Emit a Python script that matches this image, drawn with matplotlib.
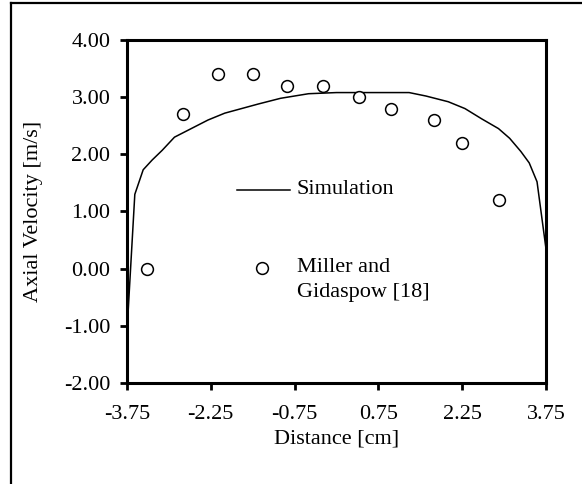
import numpy as np
import matplotlib
matplotlib.use("Agg")
import matplotlib.pyplot as plt
from matplotlib.lines import Line2D

plt.rcParams['font.family'] = ['Liberation Serif', 'DejaVu Serif']
plt.rcParams['axes.unicode_minus'] = False

# Simulation profile
sim_x = [-3.75, -3.61, -3.46, -3.30, -3.12, -2.90, -2.60, -2.30, -2.00, -1.70,
         -1.40, -1.00, -0.50, 0.00, 0.50, 1.00, 1.30, 1.60, 2.00, 2.30,
         2.60, 2.90, 3.10, 3.30, 3.45, 3.59, 3.75]
sim_y = [-1.10, 1.30, 1.73, 1.90, 2.07, 2.30, 2.45, 2.60, 2.72, 2.80,
         2.88, 2.98, 3.06, 3.08, 3.08, 3.08, 3.08, 3.02, 2.92, 2.80,
         2.62, 2.45, 2.28, 2.05, 1.85, 1.52, 0.35]

# Miller and Gidaspow measurements
exp_x = [-3.39, -2.75, -2.12, -1.50, -0.89, -0.25, 0.41, 0.98, 1.75, 2.25, 2.91]
exp_y = [0.0, 2.7, 3.4, 3.4, 3.2, 3.2, 3.0, 2.8, 2.6, 2.2, 1.2]

x_ticks = [-3.75, -2.25, -0.75, 0.75, 2.25, 3.75]
y_ticks = [-2, -1, 0, 1, 2, 3, 4]

fig = plt.figure(figsize=(5.82, 4.84), dpi=100)
ax = fig.add_axes([0.2182, 0.2087, 0.7199, 0.7087])

ax.plot(sim_x, sim_y, color='black', lw=1.1)
ax.plot(exp_x, exp_y, 'o', mfc='white', mec='black', ms=8.5, mew=1.1)

ax.set_xlim(-3.75, 3.75)
ax.set_ylim(-2, 4)
ax.set_xticks(x_ticks)
ax.set_xticklabels([f"{v:.2f}" for v in x_ticks])
ax.set_yticks(y_ticks)
ax.set_yticklabels([f"{v:.2f}" for v in y_ticks])

for s in ax.spines.values():
    s.set_linewidth(2.2)
ax.tick_params(axis='both', direction='out', length=5, width=2, labelsize=16)
ax.tick_params(axis='x', pad=11)
ax.tick_params(axis='y', pad=7)

ax.set_xlabel("Distance [cm]", fontsize=16)
ax.set_ylabel("Axial Velocity [m/s]", fontsize=16)
ax.xaxis.set_label_coords(0.5, -0.137)
ax.yaxis.set_label_coords(-0.2, 0.5)

# hand-placed legend
ax.add_line(Line2D([0.2625, 0.389], [0.5627, 0.5627], transform=ax.transAxes,
                   color='black', lw=1.1))
ax.text(0.4057, 0.5627, "Simulation", transform=ax.transAxes, fontsize=16,
        va='center', ha='left')
ax.add_line(Line2D([0.322], [0.335], transform=ax.transAxes, marker='o',
                   mfc='white', mec='black', ms=8.5, mew=1.1, ls='none'))
ax.text(0.4057, 0.300, "Miller and\nGidaspow [18]", transform=ax.transAxes,
        fontsize=16, va='center', ha='left', linespacing=1.38)

# outer frame (left and top edges)
fig.add_artist(Line2D([0.0189, 0.0189], [0, 0.9938], transform=fig.transFigure,
                      color='black', lw=1.6))
fig.add_artist(Line2D([0.0189, 1], [0.9938, 0.9938], transform=fig.transFigure,
                      color='black', lw=1.6))

fig.savefig("out.png", dpi=100)
